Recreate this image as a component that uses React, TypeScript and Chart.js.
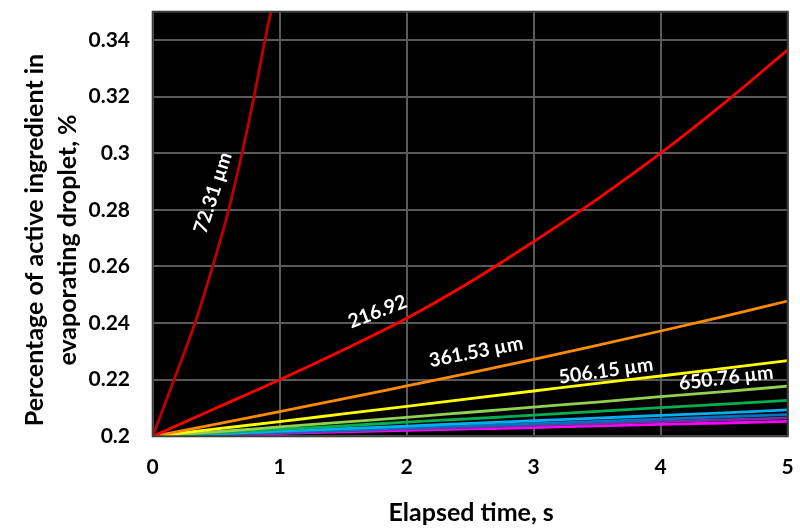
import React, { useEffect, useRef } from "react";
import { Chart, registerables } from "chart.js";

Chart.register(...registerables);

// Elapsed time samples (s)
const times = [0, 0.5, 1, 1.5, 2, 2.5, 3, 3.5, 4, 4.5, 5];

// Initial droplet diameters (µm)
const diameters = ["72.31", "216.92", "361.53", "506.15", "650.76", "795.38", "939.99", "1084.61", "1229.22", "1373.84"];

// 72.31 µm droplet: sampled separately (rises quickly)
const smallTimes = [0, 0.168, 0.333, 0.472, 0.598, 0.703, 0.798, 0.884, 0.93, 0.975];
const smallValues = [0.2, 0.22, 0.24, 0.26, 0.28, 0.3, 0.32, 0.34, 0.35, 0.36];

const s216 = [0.2, 0.21, 0.22, 0.2305, 0.2417, 0.2545, 0.2688, 0.2838, 0.3, 0.3177, 0.3365];
const s361 = [0.2, 0.2043, 0.2087, 0.2132, 0.2178, 0.2224, 0.2272, 0.2321, 0.2372, 0.2424, 0.2478];
const s506 = [0.2, 0.2026, 0.2052, 0.2079, 0.2106, 0.2133, 0.216, 0.2187, 0.2213, 0.224, 0.2267];
const s650 = [0.2, 0.2016, 0.2033, 0.205, 0.2067, 0.2085, 0.2103, 0.2121, 0.214, 0.2158, 0.2177];
const s795 = [0.2, 0.2012, 0.2025, 0.2037, 0.205, 0.2062, 0.2075, 0.2088, 0.2101, 0.2114, 0.2127];
const s939 = [0.2, 0.2009, 0.2018, 0.2027, 0.2036, 0.2046, 0.2055, 0.2064, 0.2074, 0.2083, 0.2093];
const s1084 = [0.2, 0.2007, 0.2015, 0.2022, 0.203, 0.2038, 0.2045, 0.2053, 0.2061, 0.2069, 0.2077];
const s1229 = [0.2, 0.2006, 0.2013, 0.2019, 0.2026, 0.2032, 0.2039, 0.2045, 0.2052, 0.2058, 0.2065];
const s1373 = [0.2, 0.2005, 0.201, 0.2016, 0.2021, 0.2026, 0.2031, 0.2037, 0.2042, 0.2047, 0.2053];

const seriesValues = [s216, s361, s506, s650, s795, s939, s1084, s1229, s1373];
const colors = ["#C00000", "#FF0000", "#FF8C00", "#FFFF00", "#92D050", "#00B050", "#00B0F0", "#0070C0", "#7030A0", "#FF00FF"];

const yTicks = [0.2, 0.22, 0.24, 0.26, 0.28, 0.3, 0.32, 0.34];
const xTicks = [0, 1, 2, 3, 4, 5];

// Curve labels: text, anchor (time, value), rotation in degrees
const labelTexts = ["72.31 µm", "216.92", "361.53 µm", "506.15 µm", "650.76 µm"];
const labelTimes = [0.475, 1.77, 2.546, 3.569, 4.515];
const labelValues = [0.286, 0.244, 0.2298, 0.2231, 0.2206];
const labelAngles = [72, 21, 11, 8, 7];

const FONT = "Lato, 'Open Sans', sans-serif";

function zeroPad(s: any) {
  s.paddingTop = 0;
  s.paddingBottom = 0;
  s.paddingLeft = 0;
  s.paddingRight = 0;
}

export default function App() {
  const ref = useRef<HTMLCanvasElement | null>(null);

  useEffect(() => {
    const canvas = ref.current;
    if (!canvas) return;

    const datasets: any[] = [];
    datasets.push({
      label: diameters[0],
      data: smallTimes.map((t, i) => ({ x: t, y: smallValues[i] })),
      borderColor: colors[0],
    });
    seriesValues.forEach((vals, k) => {
      datasets.push({
        label: diameters[k + 1],
        data: times.map((t, i) => ({ x: t, y: vals[i] })),
        borderColor: colors[k + 1],
      });
    });
    datasets.forEach((d) => {
      d.borderWidth = 2.8;
      d.pointRadius = 0;
      d.cubicInterpolationMode = "monotone";
      d.fill = false;
    });

    const bgPlugin = {
      id: "plotBg",
      beforeDraw(chart: any) {
        const { ctx, chartArea: a } = chart;
        ctx.save();
        ctx.fillStyle = "#000000";
        ctx.fillRect(a.left, a.top, a.right - a.left, a.bottom - a.top);
        ctx.restore();
      },
      afterDraw(chart: any) {
        const { ctx, chartArea: a } = chart;
        const xs = chart.scales.x;
        const ys = chart.scales.y;
        ctx.save();
        ctx.strokeStyle = "#3f3f3f";
        ctx.lineWidth = 2;
        ctx.strokeRect(a.left, a.top, a.right - a.left, a.bottom - a.top);

        // curve labels
        ctx.fillStyle = "#ffffff";
        ctx.font = `bold 19.5px ${FONT}`;
        ctx.textAlign = "center";
        ctx.textBaseline = "middle";
        labelTexts.forEach((txt, i) => {
          const px = xs.getPixelForValue(labelTimes[i]);
          const py = ys.getPixelForValue(labelValues[i]);
          ctx.save();
          ctx.translate(px, py);
          ctx.rotate((-labelAngles[i] * Math.PI) / 180);
          ctx.fillText(txt, 0, 0);
          ctx.restore();
        });

        // axis titles
        ctx.fillStyle = "#000000";
        ctx.font = `bold 25px ${FONT}`;
        ctx.fillText("Elapsed time, s", (a.left + a.right) / 2 + 1, 513);
        ctx.save();
        ctx.translate(0, 240);
        ctx.rotate(-Math.PI / 2);
        ctx.fillText("Percentage of active ingredient in", 0, 35);
        ctx.fillText("evaporating droplet, %", 0, 68);
        ctx.restore();
        ctx.restore();
      },
    };

    const chart = new Chart(canvas, {
      type: "line",
      data: { datasets },
      options: {
        animation: false,
        responsive: false,
        maintainAspectRatio: false,
        layout: { padding: { left: 0, top: 11.7, right: 12.3, bottom: 0 } },
        plugins: { legend: { display: false }, tooltip: { enabled: false } },
        scales: {
          x: {
            type: "linear",
            min: 0,
            max: 5,
            afterFit: (s: any) => {
              s.height = 92.7;
              zeroPad(s);
            },
            afterBuildTicks: (s: any) => {
              s.ticks = xTicks.map((v) => ({ value: v }));
            },
            ticks: {
              color: "#000000",
              font: { family: FONT, size: 21, weight: "bold" },
              padding: 18,
              maxRotation: 0,
              callback: (v: any) => String(v),
            },
            grid: { color: "#5a5a5a", lineWidth: 2, drawTicks: false },
            border: { display: false },
          },
          y: {
            type: "linear",
            min: 0.2,
            max: 0.35,
            afterFit: (s: any) => {
              s.width = 152.7;
              zeroPad(s);
            },
            afterBuildTicks: (s: any) => {
              s.ticks = yTicks.map((v) => ({ value: v }));
            },
            ticks: {
              color: "#000000",
              font: { family: FONT, size: 21, weight: "bold" },
              padding: 22.7,
              callback: (v: any) => String(+Number(v).toFixed(2)),
            },
            grid: { color: "#5a5a5a", lineWidth: 2, drawTicks: false },
            border: { display: false },
          },
        },
      },
      plugins: [bgPlugin],
    });

    return () => chart.destroy();
  }, []);

  return (
    <div style={{ position: "fixed", left: 0, top: 0, width: 800, height: 529, background: "#ffffff" }}>
      <canvas ref={ref} width={800} height={529} style={{ width: 800, height: 529, display: "block" }} />
    </div>
  );
}
